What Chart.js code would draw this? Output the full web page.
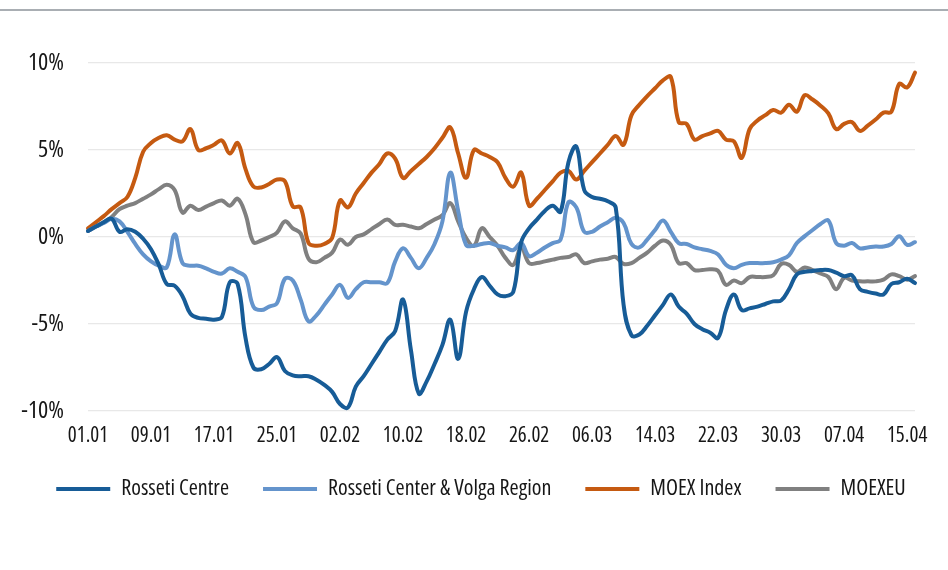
<!DOCTYPE html>
<html>
<head>
<meta charset="utf-8">
<script src="https://cdn.jsdelivr.net/npm/chart.js@4/dist/chart.umd.min.js"></script>
<style>
  html, body { margin: 0; padding: 0; background: #fff; }
  #wrap { position: relative; width: 948px; height: 570px; overflow: hidden; background: #fff; }
  #topline { position: absolute; left: 0; top: 9px; width: 948px; height: 2px; background: #A9AEB3; }
  #box { position: absolute; left: 0; top: 0; width: 948px; height: 570px; }
</style>
</head>
<body>
<div id="wrap">
  <div id="topline"></div>
  <div id="box"><canvas id="c"></canvas></div>
</div>
<script>
const dates = [
 '01.01','02.01','03.01','04.01','05.01','06.01','07.01','08.01','09.01','10.01','11.01','12.01','13.01','14.01','15.01','16.01',
 '17.01','18.01','19.01','20.01','21.01','22.01','23.01','24.01','25.01','26.01','27.01','28.01','29.01','30.01','31.01',
 '01.02','02.02','03.02','04.02','05.02','06.02','07.02','08.02','09.02','10.02','11.02','12.02','13.02','14.02','15.02','16.02',
 '17.02','18.02','19.02','20.02','21.02','22.02','23.02','24.02','25.02','26.02','27.02','28.02',
 '01.03','02.03','03.03','04.03','05.03','06.03','07.03','08.03','09.03','10.03','11.03','12.03','13.03','14.03','15.03','16.03',
 '17.03','18.03','19.03','20.03','21.03','22.03','23.03','24.03','25.03','26.03','27.03','28.03','29.03','30.03','31.03',
 '01.04','02.04','03.04','04.04','05.04','06.04','07.04','08.04','09.04','10.04','11.04','12.04','13.04','14.04','15.04','16.04'
];
const tickLabels = ['01.01','09.01','17.01','25.01','02.02','10.02','18.02','26.02','06.03','14.03','22.03','30.03','07.04','15.04'];
const yTicks = [-10, -5, 0, 5, 10];

const rossetiCentre = [
 0.35,0.6,0.85,1.05,0.3,0.45,0.3,-0.1,-0.7,-1.6,-2.7,-2.8,-3.4,-4.4,-4.65,-4.7,-4.75,-4.6,-2.6,-2.7,
 -5.8,-7.5,-7.6,-7.3,-6.9,-7.7,-7.95,-8.0,-8.0,-8.2,-8.5,-8.9,-9.6,-9.8,-8.6,-8.0,-7.3,-6.6,-5.9,-5.4,
 -3.6,-6.5,-9.0,-8.3,-7.3,-6.2,-4.75,-7.0,-4.3,-3.0,-2.3,-2.8,-3.3,-3.4,-3.15,-0.3,0.5,1.0,1.5,1.8,
 1.45,4.3,5.2,2.7,2.3,2.2,2.05,1.7,-3.9,-5.65,-5.6,-5.1,-4.5,-3.9,-3.3,-4.0,-4.4,-5.0,-5.3,-5.5,
 -5.8,-4.2,-3.3,-4.2,-4.1,-4.0,-3.85,-3.7,-3.65,-3.0,-2.15,-2.0,-1.95,-1.9,-1.9,-2.05,-2.25,-2.2,-3.0,-3.15,
 -3.25,-3.3,-2.7,-2.6,-2.4,-2.65
];
const rossetiVolga = [
 0.35,0.6,0.8,1.05,0.9,0.3,-0.4,-1.0,-1.4,-1.65,-1.75,0.15,-1.5,-1.65,-1.65,-1.8,-2.0,-2.1,-1.8,-2.0,
 -2.3,-4.0,-4.2,-4.0,-3.8,-2.4,-2.5,-3.6,-4.85,-4.5,-3.9,-3.3,-2.75,-3.5,-3.0,-2.6,-2.6,-2.6,-2.65,-1.4,
 -0.65,-1.2,-1.8,-1.2,-0.4,0.9,3.7,1.5,-0.45,-0.5,-0.4,-0.35,-0.5,-0.6,-0.75,-0.35,-1.1,-0.9,-0.6,-0.35,
 -0.15,2.0,1.7,0.3,0.3,0.6,0.85,1.1,0.8,-0.4,-0.6,-0.15,0.4,0.95,0.3,-0.35,-0.4,-0.6,-0.7,-0.8,
 -1.0,-1.6,-1.8,-1.6,-1.5,-1.5,-1.5,-1.45,-1.3,-1.05,-0.35,0.05,0.4,0.75,0.95,-0.35,-0.5,-0.35,-0.65,-0.6,
 -0.55,-0.55,-0.4,0.05,-0.45,-0.3
];
const moexIndex = [
 0.5,0.85,1.2,1.6,1.95,2.3,3.4,4.9,5.4,5.7,5.85,5.6,5.5,6.2,5.0,5.1,5.3,5.55,4.8,5.4,
 3.9,2.9,2.85,3.05,3.3,3.2,1.75,1.7,-0.35,-0.5,-0.4,-0.05,2.1,1.7,2.5,3.1,3.7,4.2,4.8,4.5,
 3.4,3.8,4.2,4.6,5.1,5.7,6.3,4.8,3.4,5.0,4.8,4.6,4.3,3.4,2.9,3.7,1.8,2.2,2.7,3.2,
 3.7,3.8,3.3,3.8,4.3,4.8,5.3,5.8,5.3,7.0,7.6,8.1,8.55,9.0,9.2,6.6,6.5,5.6,5.8,5.95,
 6.1,5.6,5.5,4.55,6.2,6.7,7.0,7.3,7.15,7.6,7.2,8.15,7.9,7.55,7.1,6.2,6.5,6.6,6.1,6.4,
 6.75,7.15,7.2,8.8,8.6,9.45
];
const moexeu = [
 0.35,0.6,0.85,1.15,1.6,1.8,1.95,2.2,2.45,2.75,3.0,2.7,1.4,1.8,1.55,1.75,1.95,2.1,1.8,2.2,
 1.3,-0.3,-0.2,0.0,0.25,0.9,0.5,0.2,-1.25,-1.45,-1.2,-0.9,-0.15,-0.45,0.0,0.15,0.45,0.75,1.0,0.7,
 0.7,0.6,0.5,0.75,1.0,1.25,1.95,0.9,-0.05,-0.5,0.5,0.0,-0.5,-1.2,-1.6,-0.6,-1.5,-1.5,-1.4,-1.3,
 -1.2,-1.15,-1.0,-1.5,-1.4,-1.3,-1.25,-1.15,-1.55,-1.5,-1.2,-0.9,-0.5,-0.2,-0.45,-1.5,-1.5,-1.9,-1.9,-1.85,
 -1.95,-2.75,-2.5,-2.65,-2.3,-2.3,-2.3,-2.2,-1.55,-1.6,-2.0,-1.75,-1.9,-2.1,-2.3,-3.0,-2.35,-2.5,-2.55,-2.55,
 -2.55,-2.45,-2.15,-2.25,-2.45,-2.25
];

const FAMILY = "'Open Sans', sans-serif";
const STRETCH = 'normal condensed';

function ds(label, data, color) {
  return {
    label, data, yAxisID: 'y',
    borderColor: color, backgroundColor: color,
    borderWidth: 4, pointRadius: 0, pointHoverRadius: 0,
    tension: 0.4, borderCapStyle: 'round', borderJoinStyle: 'round',
    fill: false, clip: false
  };
}

new Chart(document.getElementById('c'), {
  type: 'line',
  data: {
    labels: dates,
    datasets: [
      ds('Rosseti Centre', rossetiCentre, '#175C97'),
      ds('Rosseti Center & Volga Region', rossetiVolga, '#6494CC'),
      ds('MOEX Index', moexIndex, '#C55A11'),
      ds('MOEXEU', moexeu, '#808080')
    ]
  },
  options: {
    responsive: true,
    maintainAspectRatio: false,
    animation: false,
    layout: { padding: { left: 14, right: 0, top: 63, bottom: 60 } },
    plugins: {
      tooltip: { enabled: false },
      legend: {
        position: 'bottom',
        labels: {
          usePointStyle: true, pointStyle: 'line', pointStyleWidth: 54, boxHeight: 22,
          font: { family: FAMILY, size: 22, weight: STRETCH }, color: '#161616', padding: 34
        }
      }
    },
    scales: {
      x: {
        type: 'category',
        offset: false,
        grid: { display: false, drawTicks: false },
        border: { display: false },
        afterFit: (s) => { s.height = 33; },
        ticks: {
          autoSkip: false, maxRotation: 0, minRotation: 0,
          font: { family: FAMILY, size: 21, weight: STRETCH }, color: '#161616', padding: 12,
          callback: function(v, i) { const l = dates[i]; return tickLabels.includes(l) ? l : ''; }
        }
      },
      y: {
        position: 'left',
        min: -10, max: 10,
        afterBuildTicks: (s) => { s.ticks = yTicks.map(v => ({ value: v })); },
        afterFit: (s) => { s.width = 74; },
        grid: { color: '#E8E8E8', lineWidth: 1.3, drawTicks: false },
        border: { display: false },
        ticks: {
          font: { family: FAMILY, size: 24, weight: STRETCH }, color: '#161616', padding: 24,
          callback: (v) => v + '%'
        }
      },
      yR: {
        position: 'right',
        min: -10, max: 10,
        grid: { display: false, drawTicks: false },
        border: { display: false },
        ticks: { display: false },
        afterFit: (s) => { s.width = 33; }
      }
    }
  }
});
</script>
</body>
</html>
